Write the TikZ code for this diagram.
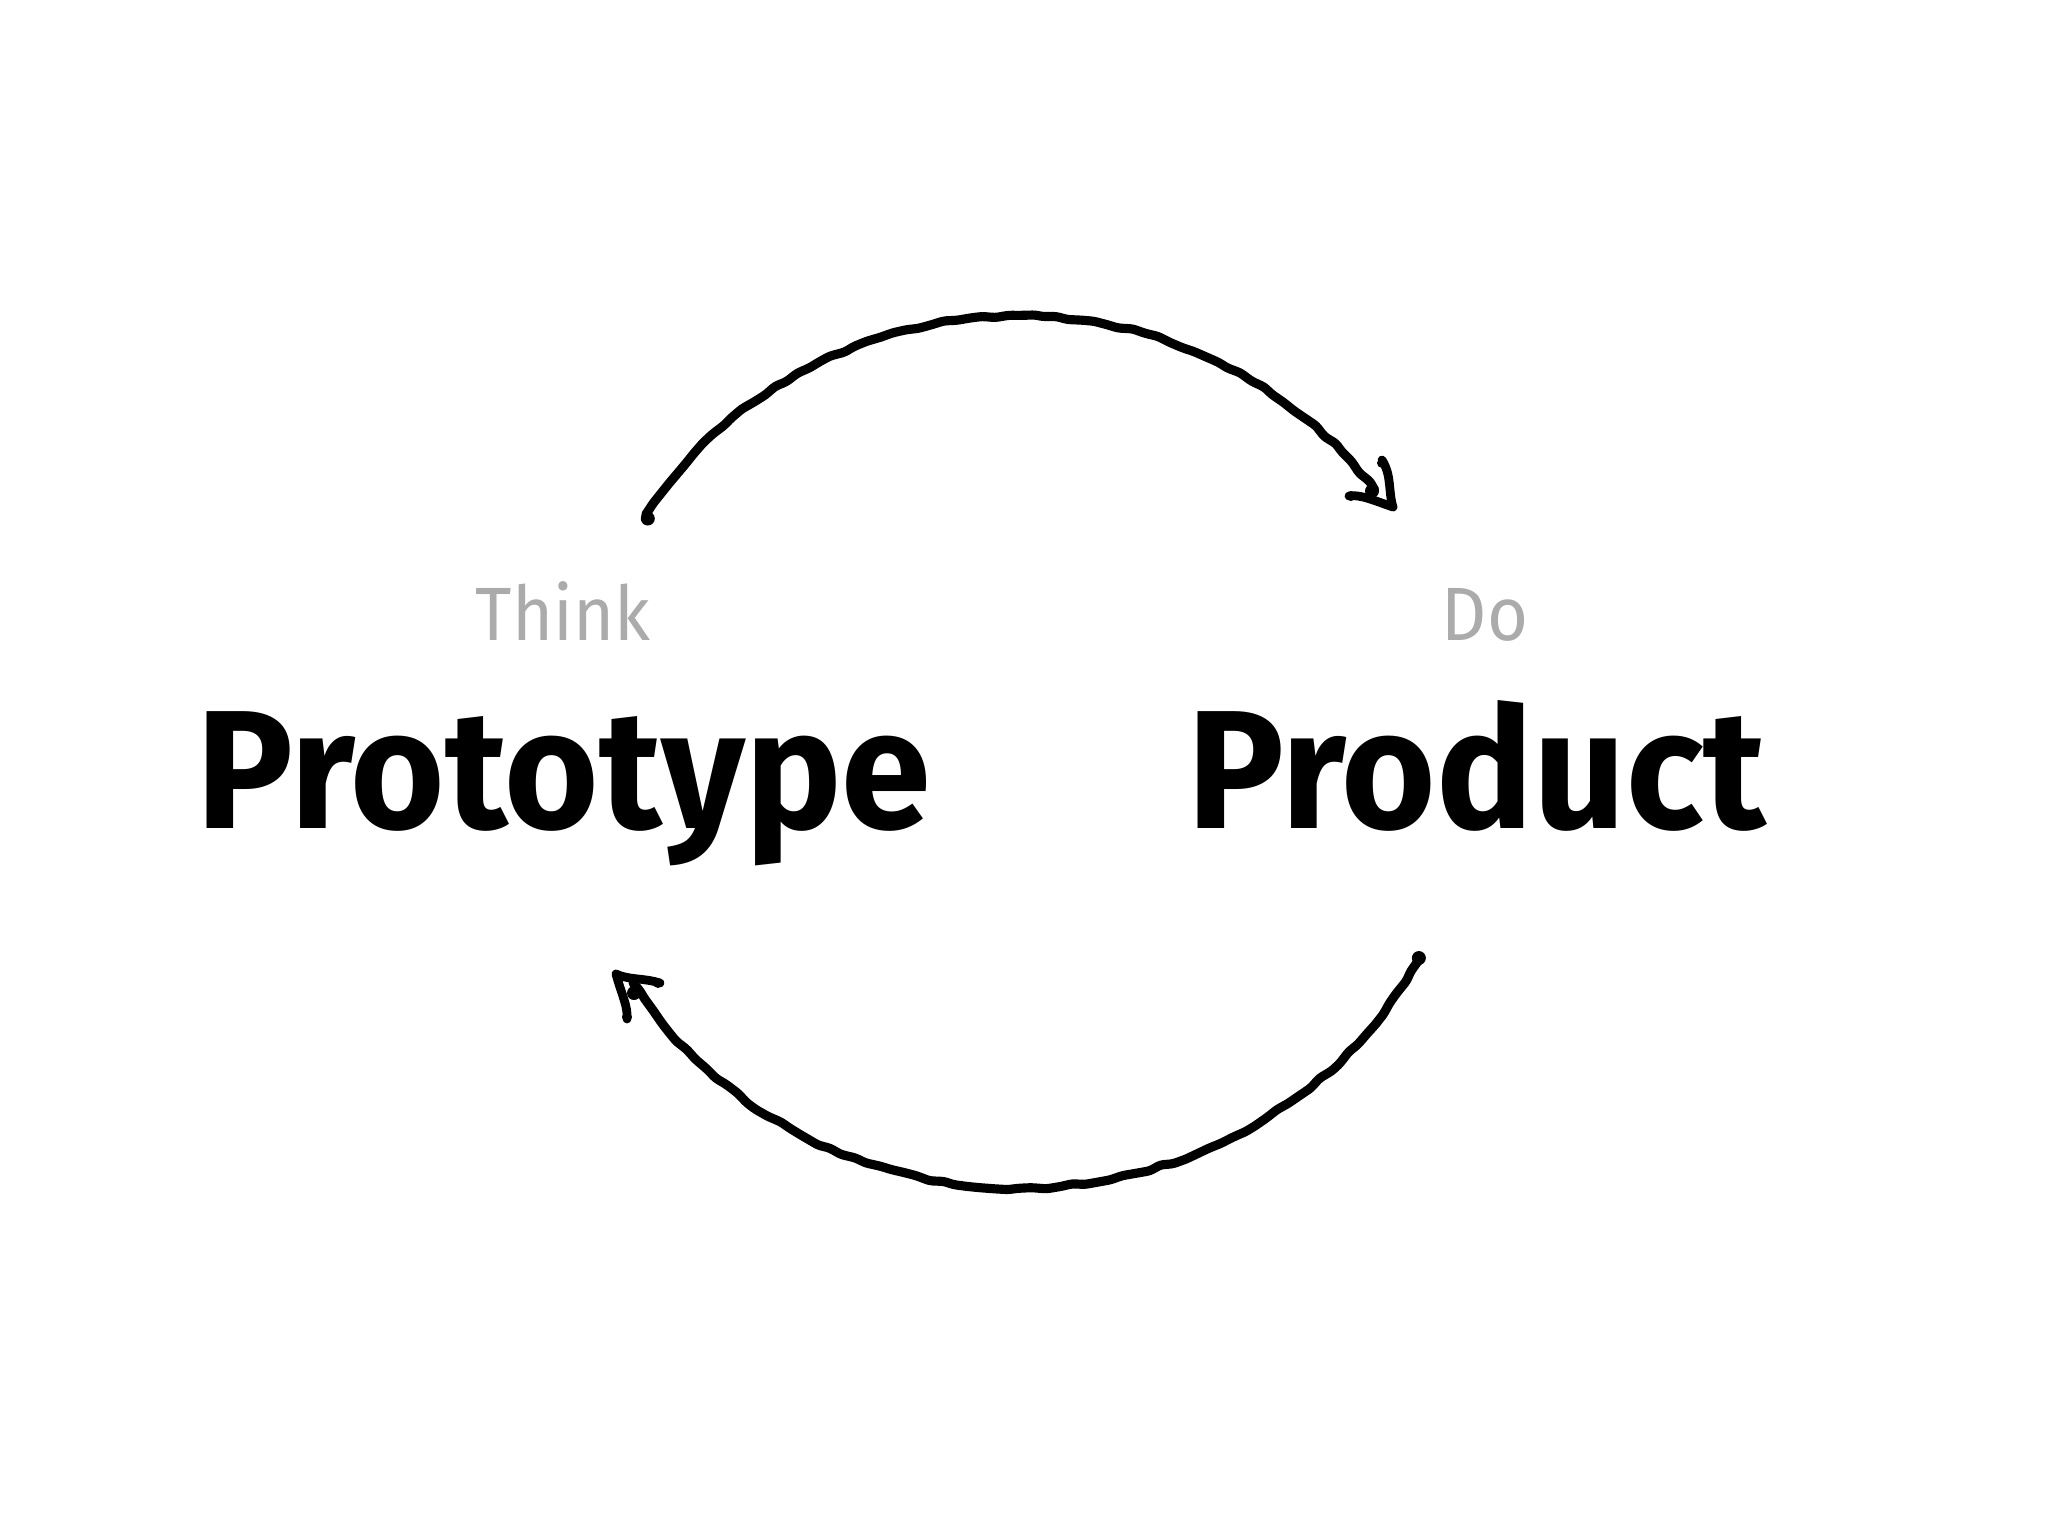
\documentclass[tikz,border=0pt]{standalone}
\usepackage{fontspec}
\setmainfont{Fira Sans}[BoldFeatures={FakeStretch=0.96}]
\newfontfamily\thinfont{Fira Sans}[FakeStretch=0.93]
\usetikzlibrary{decorations.pathmorphing,calc}
\begin{document}
\begin{tikzpicture}[x=0.1mm,y=0.1mm,
  sketch/.style={line width=2.6pt,line cap=round,line join=round,
    decoration={random steps,segment length=1.3mm,amplitude=0.16mm},
    decorate,rounded corners=0.3mm},
  barb/.style={line width=2.5pt,line cap=round,line join=round},
  blob/.style={fill=black},
  small/.style={font=\thinfont\fontsize{21.5}{24}\selectfont,text=black!33,inner sep=0pt,anchor=base},
  big/.style={font=\fontsize{48}{54}\selectfont\bfseries,inner sep=0pt,anchor=base west}]
\pgfmathsetseed{11}
\useasboundingbox (0,0) rectangle (2048,1536);
\node[small] (think) at (563,896) {Think};
\node[small] (do) at (1485,896) {Do};
\node[big] (proto) at (196,708) {Prototype};
\node[big] (prod) at (1187,708) {Product};
% circle of the cycle
\coordinate (c) at (1019,784);
% top arc: Think -> Do
\coordinate (ts) at ($(c)+(147:445 and 436)$);
\coordinate (tt) at (1393,1029);
\draw[sketch] (ts) arc[start angle=147,end angle=37,x radius=445,y radius=436];
\fill[blob] (ts) ++(2,-4) circle[radius=7];
\fill[blob] (1372,1045) circle[radius=7];
\draw[barb] (1382,1076) .. controls (1392,1060) and (1388,1045) .. (tt)
  .. controls (1375,1035) and (1360,1042) .. (1349,1040);
\fill[blob] (1382,1073) circle[radius=5];
\fill[blob] (1351,1040) circle[radius=5];
% bottom arc: Do -> Think
\coordinate (bs) at ($(c)+(-28.5:455 and 436)$);
\coordinate (bt) at (616,562);
\draw[sketch] (bs) arc[start angle=-28.5,end angle=-148,x radius=455,y radius=436];
\fill[blob] (bs) ++(0,2) circle[radius=7];
\fill[blob] (634,543) circle[radius=7];
\draw[barb] (660,553) .. controls (645,558) and (628,556) .. (bt)
  .. controls (622,540) and (628,530) .. (627,517);
\fill[blob] (658,553) circle[radius=5];
\fill[blob] (627,519) circle[radius=5];
\end{tikzpicture}
\end{document}
